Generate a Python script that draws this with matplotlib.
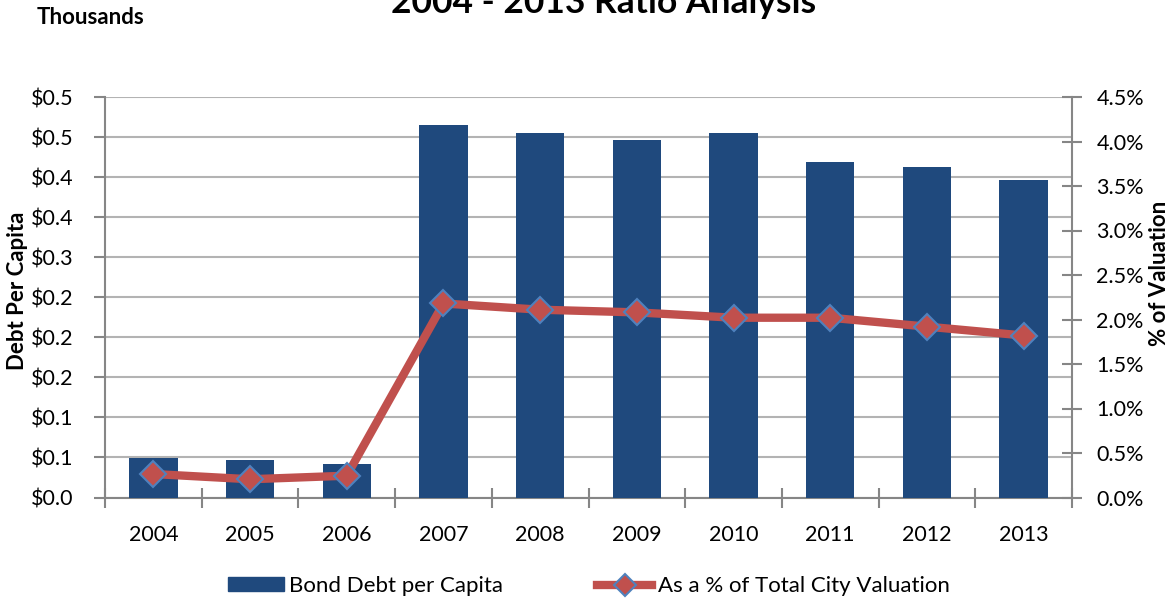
import numpy as np
import matplotlib.pyplot as plt
from matplotlib.lines import Line2D
from matplotlib.patches import Patch

plt.rcParams['font.family'] = ['Lato', 'DejaVu Sans']

years = ['2004', '2005', '2006', '2007', '2008', '2009', '2010', '2011', '2012', '2013']
debt_per_capita = [0.0497, 0.0465, 0.0420, 0.4656, 0.4546, 0.4469, 0.4548, 0.4191, 0.4123, 0.3969]
pct_valuation = [0.264, 0.205, 0.245, 2.18, 2.11, 2.08, 2.02, 2.02, 1.92, 1.82]

left_ticks = np.arange(0, 0.5001, 0.05)
right_ticks = np.arange(0, 4.501, 0.5)

bar_color = '#1F497D'
line_color = '#C0504D'
edge_blue = '#4F81BD'
grid_color = '#B3B3B3'
axis_color = '#868686'

fig = plt.figure(figsize=(11.73, 6.0), dpi=100)
ax = fig.add_axes([105 / 1173, 1 - 497.5 / 600, (1072 - 105) / 1173, (497.5 - 97) / 600])
x = np.arange(len(years))

ax.bar(x, debt_per_capita, width=0.5, color=bar_color, zorder=3)
ax.set_xlim(-0.5, len(years) - 0.5)
ax.set_ylim(0, 0.5)
ax.set_yticks(left_ticks)
ax.set_yticklabels(['$%.1f' % v for v in left_ticks])
ax.yaxis.grid(True, color=grid_color, linewidth=1.5, zorder=0)
ax.set_axisbelow(True)

ax.set_xticks(x)
ax.set_xticklabels(years)
ax.set_xticks(np.arange(-0.5, len(years)), minor=True)
ax.tick_params(axis='x', which='major', length=0, pad=20, labelsize=15.5)
ax.tick_params(axis='x', which='minor', length=15, width=1.5, color=axis_color, direction='inout')
ax.tick_params(axis='y', length=8, width=1.5, color=axis_color, direction='out', labelsize=15.5, pad=15)

for s in ['top', 'right']:
    ax.spines[s].set_visible(False)
for s in ['left', 'bottom']:
    ax.spines[s].set_color(axis_color)
    ax.spines[s].set_linewidth(1.5)

ax2 = ax.twinx()
ax2.plot(x, pct_valuation, color=line_color, linewidth=6, marker='D', markersize=13,
         markerfacecolor=line_color, markeredgecolor=edge_blue, markeredgewidth=1.5,
         solid_capstyle='round', zorder=4)
ax2.set_ylim(0, 4.5)
ax2.set_yticks(right_ticks)
ax2.set_yticklabels(['%.1f%%' % v for v in right_ticks])
ax2.tick_params(axis='y', length=15, width=1.5, color=axis_color, direction='inout', labelsize=15.5, pad=10)
for s in ['top', 'left', 'bottom']:
    ax2.spines[s].set_visible(False)
ax2.spines['right'].set_color(axis_color)
ax2.spines['right'].set_linewidth(1.5)

fig.text(18 / 1173, 1 - 291 / 600, 'Debt Per Capita', rotation=90, ha='center', va='center',
         fontsize=16, fontweight='bold')
fig.text(1159 / 1173, 1 - 273 / 600, '% of Valuation', rotation=90, ha='center', va='center',
         fontsize=16, fontweight='bold')

fig.text(604 / 1173, 1 - 13 / 600, '2004 - 2013 Ratio Analysis', ha='center', va='baseline',
         fontsize=25.5, fontweight='bold')
fig.text(37 / 1173, 1 - 18 / 600, 'Thousands', ha='left', va='center',
         fontsize=16, fontweight='bold')

handles = [Patch(facecolor=bar_color, edgecolor=bar_color),
           Line2D([0], [0], color=line_color, linewidth=6, marker='D', markersize=11,
                  markerfacecolor=line_color, markeredgecolor=edge_blue, markeredgewidth=1.5)]
fig.legend(handles, ['Bond Debt per Capita', 'As a % of Total City Valuation'],
           loc='center', bbox_to_anchor=(589 / 1173, 1 - 586 / 600), ncol=2, frameon=False,
           fontsize=16, handlelength=2.5, handleheight=0.55, handletextpad=0.25,
           columnspacing=4.2, borderpad=0)

fig.savefig('out.png', dpi=100)
